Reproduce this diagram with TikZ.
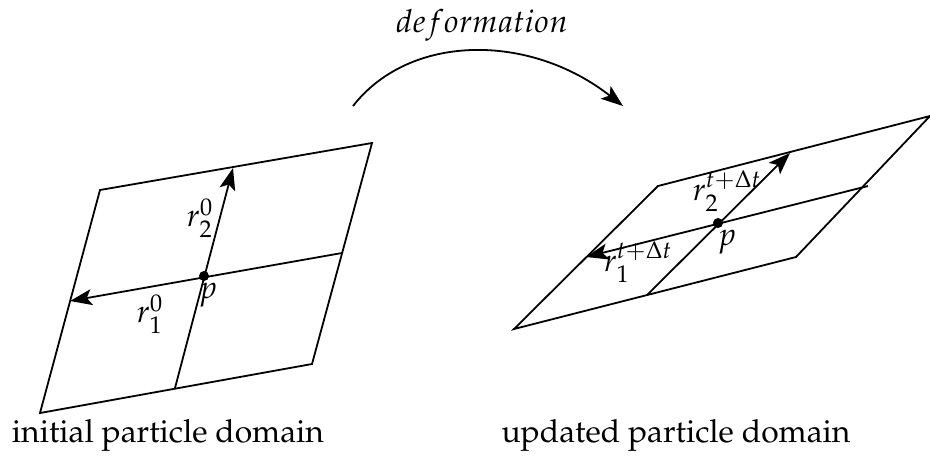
\documentclass[tikz,border=0pt]{standalone}
\usepackage[T1]{fontenc}
\usepackage{mathpazo}
\usetikzlibrary{arrows.meta}
\begin{document}
\begin{tikzpicture}[x=0.5pt,y=-0.5pt,line width=0.9pt,line join=miter,
  arr/.style={-{Stealth[length=11pt,width=8pt,inset=2.5pt]}},
  lbl/.style={font=\fontsize{15.9}{19}\selectfont,inner sep=0pt},
  dot/.style={circle,fill=black,inner sep=0pt,minimum size=5pt}]
\useasboundingbox (0,0) rectangle (930,456);
% left domain
\coordinate (LTL) at (100,190);
\coordinate (LTR) at (372,143);
\coordinate (LBR) at (312,364);
\coordinate (LBL) at (40,413);
\coordinate (LHR) at (342,253);
\coordinate (LHL) at (70,301);
\coordinate (LVB) at (175,388);
\coordinate (LVT) at (233,168);
\draw (LTL) -- (LTR) -- (LBR) -- (LBL) -- cycle;
\draw[arr] (LHR) -- (LHL);
\draw[arr] (LVB) -- (LVT);
\node[dot] (lp) at (204,276) {};
\node[lbl] (lr2) at (200,218) {$r_2^0$};
\node[lbl] (lr1) at (150,314) {$r_1^0$};
\node[lbl] (lpl) at (208,295) {$p$};
% right domain
\coordinate (RTL) at (658,186);
\coordinate (RTR) at (930,116);
\coordinate (RBR) at (796,257);
\coordinate (RBL) at (514,329);
\coordinate (RHR) at (868,186);
\coordinate (RHL) at (586,257);
\coordinate (RVB) at (647,295);
\coordinate (RVT) at (790,153);
\draw (RTL) -- (RTR) -- (RBR) -- (RBL) -- cycle;
\draw[arr] (RHR) -- (RHL);
\draw[arr] (RVB) -- (RVT);
\node[dot] (rp) at (718,223) {};
\node[lbl] (rr2) at (727,191) {$r_2^{t+\Delta t}$};
\node[lbl] (rr1) at (638,262) {$r_1^{t+\Delta t}$};
\node[lbl] (rpl) at (727,242) {$p$};
% deformation arrow
\coordinate (AS) at (353,106);
\coordinate (AE) at (623,106);
\draw[arr] (AS) .. controls (410,33) and (530,33) .. (AE);
\node[lbl] (def) at (482,25) {$deformation$};
% captions
\node[lbl,anchor=base] (cap1) at (168,442) {initial particle domain};
\node[lbl,anchor=base] (cap2) at (676,442) {updated particle domain};
\end{tikzpicture}
\end{document}
